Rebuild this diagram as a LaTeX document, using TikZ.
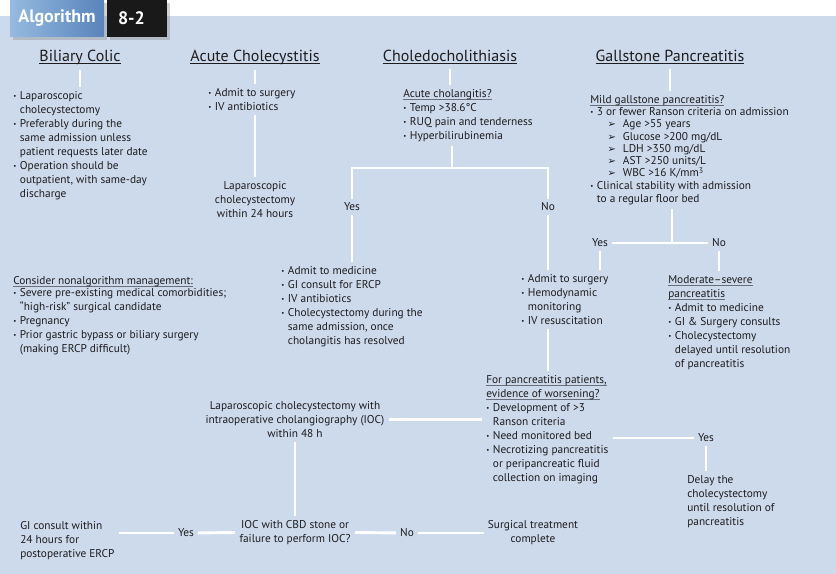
\documentclass[tikz,border=0pt]{standalone}
\usepackage{fontspec}
\setmainfont{PT Sans}
\newfontfamily\arrowfont{DejaVu Sans}
\usetikzlibrary{positioning,shadows}

\definecolor{bgblue}{RGB}{205,218,235}
\definecolor{ink}{RGB}{30,28,30}
\definecolor{rulegrey}{RGB}{105,110,120}
\definecolor{tablight}{RGB}{150,186,224}
\definecolor{tabdark}{RGB}{88,132,188}

\newcommand{\bul}{\makebox[5pt][l]{\raisebox{0.6pt}{\scalebox{0.6}{\textbullet}}}}
\newcommand{\ind}{\hspace*{5pt}}
\newcommand{\arr}{\hspace*{13pt}\makebox[11.5pt][l]{\arrowfont\fontsize{7.5}{7.5}\selectfont ➢}}
\newcommand{\ulbox}[3]{\setbox0\hbox{#3}\rlap{\color{#1}\rule[-1.7pt]{\wd0}{#2}}\box0}
\newcommand{\subhead}[1]{\ulbox{rulegrey}{0.5pt}{#1}}
\newcommand{\headline}[1]{\ulbox{ink}{0.6pt}{#1}}

\begin{document}
\begin{tikzpicture}[x=0.75pt, y=-0.75pt,
  body/.style={inner sep=0pt, align=left, anchor=north west, text=ink, font=\fontsize{8.5}{10.5}\selectfont},
  mid/.style={body, align=center, anchor=north},
  head/.style={inner sep=0pt, anchor=base, text=ink, font=\fontsize{12}{14}\selectfont},
  ans/.style={inner sep=0pt, text=ink, font=\fontsize{8.5}{10.5}\selectfont},
  tab/.style={inner sep=0pt, minimum height=27.75pt, text=white, font=\bfseries\fontsize{13.5}{15}\selectfont,
    drop shadow={shadow xshift=2pt, shadow yshift=-2pt, opacity=0.35}},
  wline/.style={draw=white, line width=2.2pt, shorten <=3pt, shorten >=3pt},
  wjoin/.style={wline, shorten >=0pt}]

\useasboundingbox (0,0) rectangle (836,574);
\fill[white] (0,0) rectangle (836,16);
\fill[bgblue] (0,16) rectangle (836,574);

\node[tab, left color=tablight, right color=tabdark, minimum width=70.5pt] (alg) at (57,18.5) {Algorithm};
\node[tab, fill=black!90, minimum width=45pt, text width=28.5pt, align=left] (num) at (137,18.5) {8-2};

\node[head] (bc) at (80,62) {\headline{Biliary Colic}};
\node[head] (ac) at (255,62) {\headline{Acute Cholecystitis}};
\node[head] (cd) at (450,62) {\headline{Choledocholithiasis}};
\node[head] (gp) at (670,62) {\headline{Gallstone Pancreatitis}};

\node[body] (bcl) at (13,91) {\bul Laparoscopic\\\ind cholecystectomy\\\bul Preferably during the\\\ind same admission unless\\\ind patient requests later date\\\bul Operation should be\\\ind outpatient, with same-day\\\ind discharge};
\node[body] (cnm) at (13,276) {\subhead{Consider nonalgorithm management:}\\[-1.5pt]\bul Severe pre-existing medical comorbidities;\\\ind “high-risk” surgical candidate\\\bul Pregnancy\\\bul Prior gastric bypass or biliary surgery\\\ind (making ERCP difficult)};

\node[body] (acl) at (208,88) {\bul Admit to surgery\\\bul IV antibiotics};
\node[mid] (aclap) at (255,181) {Laparoscopic\\cholecystectomy\\within 24 hours};

\node[body] (cdq) at (403,89) {\subhead{Acute cholangitis?}\\\bul Temp >38.6°C\\\bul RUQ pain and tenderness\\\bul Hyperbilirubinemia};
\node[ans] (cdyes) at (352,207) {Yes};
\node[ans] (cdno) at (548,207) {No};
\node[body] (ydl) at (281,266) {\bul Admit to medicine\\\bul GI consult for ERCP\\\bul IV antibiotics\\\bul Cholecystectomy during the\\\ind same admission, once\\\ind cholangitis has resolved};

\node[body, font=\fontsize{8.5}{9.2}\selectfont] (gpq) at (590,95) {\subhead{Mild gallstone pancreatitis?}\\\bul 3 or fewer Ranson criteria on admission\\\arr Age >55 years\\\arr Glucose >200 mg/dL\\\arr LDH >350 mg/dL\\\arr AST >250 units/L\\\arr WBC >16 K/mm\textsuperscript{3}\\\bul Clinical stability with admission\\[1pt]\ind to a regular floor bed};
\node[ans] (gpyes) at (600,243) {Yes};
\node[ans] (gpno) at (719,243) {No};
\node[body] (srg) at (521,274) {\bul Admit to surgery\\\bul Hemodynamic\\\ind monitoring\\\bul IV resuscitation};
\node[body] (msv) at (668,275) {\subhead{Moderate–severe}\\\subhead{pancreatitis}\\\bul Admit to medicine\\\bul GI \& Surgery consults\\\bul Cholecystectomy\\\ind delayed until resolution\\\ind of pancreatitis};

\node[body] (wrs) at (486,375) {\subhead{For pancreatitis patients,}\\\subhead{evidence of worsening?}\\\bul Development of >3\\\ind Ranson criteria\\\bul Need monitored bed\\\bul Necrotizing pancreatitis\\\ind or peripancreatic fluid\\\ind collection on imaging};
\node[ans] (wyes) at (706,438) {Yes};
\node[body] (dly) at (687,475) {Delay the\\cholecystectomy\\until resolution of\\pancreatitis};

\node[mid] (lap) at (295,401) {Laparoscopic cholecystectomy with\\intraoperative cholangiography (IOC)\\within 48 h};
\node[mid] (ioc) at (295,520) {IOC with CBD stone or\\failure to perform IOC?};
\node[ans] (iyes) at (186,533) {Yes};
\node[ans] (ino) at (407,533) {No};
\node[body] (gi) at (20,521) {GI consult within\\24 hours for\\postoperative ERCP};
\node[mid] (sdn) at (533,520) {Surgical treatment\\complete};

\draw[wline] (bc.south) -- (bc.south |- bcl.north);
\draw[wline] (ac.south) -- (ac.south |- acl.north);
\draw[wline] (ac.south |- acl.south) -- (ac.south |- aclap.north);
\draw[wline] (cd.south) -- (cd.south |- cdq.north);
\coordinate (cdj) at (452,168);
\draw[wjoin] (cdj |- cdq.south) -- (cdj);
\draw[wline] (cdyes.north) |- (cdj) -| (cdno.north);
\draw[wline] (cdyes.south) -- (cdyes.south |- ydl.north);
\draw[wline] (cdno.south) -- (cdno.south |- srg.north);
\draw[wline] (gp.south) -- (gp.south |- gpq.north);
\coordinate (gpj) at (672,243);
\draw[wjoin] (gpj |- gpq.south) -- (gpj);
\draw[wline] (gpyes.east) -- (gpno.west);
\draw[wline] (gpyes.south) -- (gpyes.south |- srg.north);
\draw[wline] (gpno.south) -- (gpno.south |- msv.north);
\draw[wline] (cdno.south |- srg.south) -- (cdno.south |- wrs.north);
\draw[wline] (wyes.west -| wrs.east) -- (wyes.west);
\draw[wline] (wyes.south) -- (wyes.south |- dly.north);
\draw[wline] (lap.east) -- (lap.east -| wrs.west);
\draw[wline] (lap.south) -- (ioc.north);
\draw[wline] (ioc.west) -- (iyes.east);
\draw[wline] (iyes.west) -- (iyes.west -| gi.east);
\draw[wline] (ioc.east) -- (ino.west);
\draw[wline] (ino.east) -- (ino.east -| sdn.west);
\end{tikzpicture}
\end{document}
